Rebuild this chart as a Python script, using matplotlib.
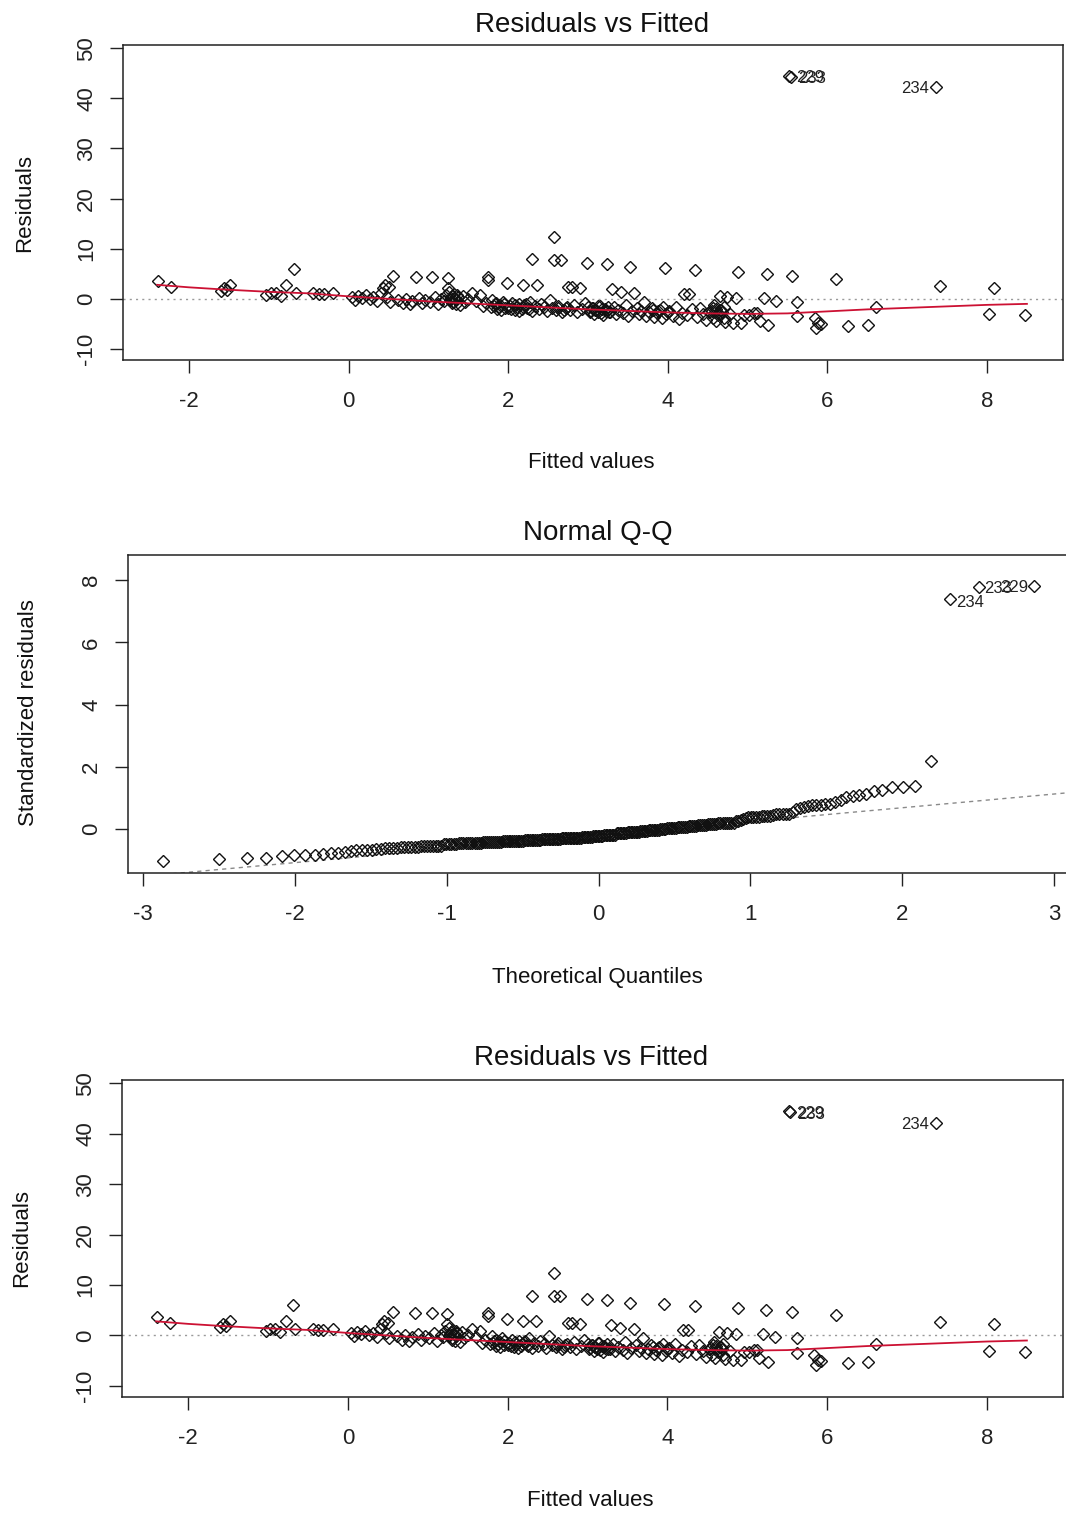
import matplotlib
matplotlib.use("Agg")
import matplotlib.pyplot as plt
import numpy as np
from statistics import NormalDist

# ---------------- data ----------------
fitted = [
    -2.39, -2.22, -1.60, -1.56, -1.53, -1.48, -1.03, -0.97, -0.91, -0.85, -0.78, -0.69, -0.66, -0.44, -0.37, -0.31, -0.19,
    0.04, 0.08, 0.12, 0.17, 0.22, 0.27, 0.31, 0.36, 0.40, 0.43, 0.45, 0.48, 0.50, 0.52, 0.56, 0.62, 0.68, 0.72, 0.77, 0.80, 0.84, 0.88, 0.92, 0.96,
    1.02, 1.05, 1.08, 1.12, 1.16, 1.19, 1.22, 1.24, 1.24, 1.26, 1.28, 1.30, 1.32, 1.35, 1.37, 1.40, 1.43, 1.46, 1.50, 1.55, 1.60, 1.65, 1.68, 1.72, 1.75, 1.75, 1.78, 1.80, 1.83, 1.86, 1.90, 1.93, 1.96, 1.99,
    2.02, 2.05, 2.08, 2.11, 2.14, 2.17, 2.19, 2.20, 2.24, 2.27, 2.30, 2.30, 2.33, 2.36, 2.38, 2.41, 2.45, 2.48, 2.52, 2.55, 2.58, 2.58, 2.60, 2.63, 2.66, 2.68, 2.72, 2.75, 2.78, 2.80, 2.83, 2.86, 2.90, 2.92, 2.96, 2.99,
    3.02, 3.05, 3.08, 3.10, 3.13, 3.16, 3.19, 3.21, 3.24, 3.26, 3.30, 3.32, 3.35, 3.38, 3.41, 3.44, 3.47, 3.50, 3.53, 3.55, 3.58, 3.61, 3.64, 3.67, 3.70, 3.73, 3.76, 3.80, 3.83, 3.86, 3.90, 3.93, 3.96, 3.98,
    4.02, 4.06, 4.10, 4.14, 4.18, 4.20, 4.24, 4.26, 4.30, 4.34, 4.36, 4.40, 4.44, 4.48, 4.52, 4.56, 4.58, 4.60, 4.63, 4.65, 4.67, 4.70, 4.72, 4.74, 4.78, 4.82, 4.86, 4.88, 4.92, 4.96,
    5.02, 5.08, 5.12, 5.15, 5.20, 5.24, 5.26, 5.35, 5.52, 5.54, 5.56, 5.62, 5.62, 5.84, 5.88, 5.92, 5.86, 6.11, 6.26, 6.51, 6.61, 7.36, 7.41, 8.03, 8.09, 8.48,
    1.27, 1.29, 1.31, 1.33, 1.34, 1.36,
    1.82, 1.85, 1.88, 1.91, 1.95, 2.00, 2.04, 2.09, 2.13, 2.18, 2.22, 2.26,
    3.00, 3.03, 3.06, 3.09, 3.12, 3.15, 3.18, 3.22, 3.25, 3.28,
    3.82, 3.88, 3.94, 4.00,
    4.55, 4.57, 4.59, 4.61, 4.64, 4.66, 4.68, 4.70,
    2.62, 2.70, 2.74,
]
residuals = [
    3.6, 2.4, 1.6, 2.2, 1.8, 2.8, 0.8, 1.2, 1.2, 0.6, 2.8, 6.0, 1.2, 1.2, 1.0, 1.0, 1.2,
    0.4, -0.2, 0.6, 0.2, 0.8, 0.0, 0.4, -0.4, 1.2, 2.2, 2.8, 0.4, 2.4, -0.6, 4.6, -0.2, -0.8, 0.0, -1.0, -0.4, 4.4, 0.2, -0.8, -0.2,
    -0.6, 4.4, 0.4, -1.0, 0.0, -0.4, 0.8, 4.2, 2.2, 1.4, 0.2, -0.8, 1.0, -0.2, 0.4, -1.2, 0.6, -0.6, 0.0, 1.2, -0.4, 0.8, -1.4, -0.8, 4.4, 3.8, -1.6, -0.2, -1.0, -2.0, -1.2, -0.6, -1.8, 3.2,
    -1.4, -0.8, -2.2, -1.6, -1.0, -2.0, 2.8, -1.2, -1.8, -0.6, 7.9, -2.4, -1.4, 2.8, -2.0, -1.0, -1.6, -2.4, -0.2, -1.8, 12.4, 7.8, -2.2, -1.4, 7.8, -2.6, -1.8, 2.4, -2.2, 2.4, -1.2, -2.6, 2.2, -2.0, -0.8, 7.2,
    -2.6, -1.8, -3.0, -2.2, -1.4, -2.8, -3.2, -2.0, 7.0, -2.6, 2.0, -1.6, -3.0, -2.2, 1.4, -2.8, -1.2, -3.4, 6.4, -2.4, 1.2, -1.8, -3.0, -2.4, -0.6, -3.4, -2.6, -1.8, -3.6, -2.8, -2.2, -3.8, 6.2, -3.0,
    -2.4, -3.4, -1.6, -4.0, -2.8, 1.0, -3.2, 1.0, -2.0, 5.8, -3.6, -1.8, -3.0, -4.2, -2.6, -3.8, -1.2, -4.4, -3.2, 0.6, -2.2, -3.8, -4.6, 0.4, -3.0, -4.8, 0.2, 5.4, -4.8, -3.2,
    -3.2, -2.8, -2.8, -4.4, 0.2, 5.0, -5.2, -0.4, 44.5, 44.3, 4.6, -0.6, -3.4, -3.8, -4.8, -5.0, -5.8, 4.0, -5.4, -5.2, -1.6, 42.2, 2.6, -3.0, 2.2, -3.2,
    -0.2, 0.6, -0.6, 0.2, -1.0, 0.8,
    -1.4, -0.8, -1.6, -2.2, -1.0, -1.8, -2.0, -1.2, -2.4, -1.6, -1.0, -2.0,
    -1.6, -2.4, -1.8, -2.2, -2.6, -1.4, -2.0, -2.4, -1.6, -2.6,
    -2.2, -2.4, -1.6, -2.6,
    -2.4, -1.8, -2.6, -2.0, -3.0, -2.2, -2.6, -1.6,
    -1.8, -2.2, -1.6,
]
outlier_labels = ["234", "233", "229"]          # ordered by increasing residual

# smoother (red line)
lowess_x = [-2.4, -2.0, -1.6, -1.0, -0.5, 0.0, 0.5, 1.0, 1.5, 2.0, 2.5, 3.0, 3.5, 4.0, 4.5, 5.0, 5.5, 6.0, 6.5, 7.0, 7.5, 8.0, 8.5]
lowess_y = [2.8, 2.3, 1.9, 1.4, 1.1, 0.5, 0.0, -0.5, -0.9, -1.3, -1.7, -2.1, -2.4, -2.7, -2.9, -3.0, -2.9, -2.5, -2.1, -1.8, -1.5, -1.2, -1.0]

sigma_hat = 5.70                       # residual scale (standardisation)
qq_line_x = [-3.3, 3.3]
qq_line_y = [-1.65, 1.26]

x_ticks_fit = [-2, 0, 2, 4, 6, 8]
y_ticks_res = [-10, 0, 10, 20, 30, 40, 50]
x_ticks_qq = [-3, -2, -1, 0, 1, 2, 3]
y_ticks_qq = [0, 2, 4, 6, 8]

# ---------------- figure ----------------
W, H = 1066, 1515
plt.rcParams["font.family"] = ["Liberation Sans", "DejaVu Sans"]
plt.rcParams["axes.unicode_minus"] = False
fig = plt.figure(figsize=(W / 100, H / 100), dpi=100)


def px_box(l, t, r, b):
    return [l / W, 1 - b / H, (r - l) / W, (b - t) / H]


def ftext(x, y, s, **kw):
    fig.text(x / W, 1 - y / H, s, ha="center", va="center", **kw)


TICK_FS = 16
LAB_FS = 16
TITLE_FS = 20
MS = 6.5


def style(ax):
    for sp in ax.spines.values():
        sp.set_linewidth(1.1)
        sp.set_color("#222222")
    ax.tick_params(axis="both", direction="out", length=9.5, width=1.0,
                   labelsize=TICK_FS, colors="#222222")
    ax.tick_params(axis="x", pad=13)
    ax.tick_params(axis="y", pad=9)
    for lbl in ax.get_yticklabels():
        lbl.set_rotation(90)
        lbl.set_va("center")


fit = np.array(fitted)
res = np.array(residuals)
order_out = np.argsort(res)[-3:]       # three largest residuals


def resid_panel(box, title_y, xlab_y, ylab_x, ylab_y, title_x, xlab_x):
    ax = fig.add_axes(px_box(*box))
    ax.axhline(0, color="#9a9a9a", lw=1.0, ls=(0, (1.5, 3)))
    ax.plot(fit, res, ls="none", marker="D", ms=MS, mfc="none", mec="#111111", mew=1.0)
    ax.plot(lowess_x, lowess_y, color="#cc1133", lw=1.3)
    ax.set_xlim(-2.827, 8.952)
    ax.set_ylim(-12.2, 50.65)
    ax.set_xticks(x_ticks_fit)
    ax.set_yticks(y_ticks_res)
    style(ax)
    for k, idx in enumerate(order_out):
        lab = outlier_labels[k]
        if fit[idx] > 7:
            ax.annotate(lab, (fit[idx], res[idx]), xytext=(-5, -1), textcoords="offset points",
                        ha="right", va="center", fontsize=12, color="#222222")
        else:
            ax.annotate(lab, (fit[idx], res[idx]), xytext=(5, -1.5), textcoords="offset points",
                        ha="left", va="center", fontsize=12, color="#222222")
    ftext(title_x, title_y, "Residuals vs Fitted", fontsize=TITLE_FS, color="#111111")
    ftext(xlab_x, xlab_y, "Fitted values", fontsize=LAB_FS, color="#111111")
    ftext(ylab_x, ylab_y, "Residuals", fontsize=LAB_FS, rotation=90, color="#111111")
    return ax


resid_panel((123, 45, 1063, 360), 25, 462, 25, 203, 592, 591)
resid_panel((122, 1080, 1063, 1397), 1058, 1500, 22, 1238, 591, 590)

# ---- Normal Q-Q ----
n = len(res)
std_sorted_idx = np.argsort(res)
std_sorted = res[std_sorted_idx] / sigma_hat
nd = NormalDist()
theo = np.array([nd.inv_cdf((i - 0.5) / n) for i in range(1, n + 1)])

ax2 = fig.add_axes(px_box(128, 555, 1068, 873))
ax2.plot(qq_line_x, qq_line_y, color="#8a8a8a", lw=1.0, ls=(0, (3, 3)))
ax2.plot(theo, std_sorted, ls="none", marker="D", ms=MS, mfc="none", mec="#111111", mew=1.0)
ax2.set_xlim(-3.10, 3.093)
ax2.set_ylim(-1.41, 8.81)
ax2.set_xticks(x_ticks_qq)
ax2.set_yticks(y_ticks_qq)
style(ax2)
ax2.annotate(outlier_labels[0], (theo[-3], std_sorted[-3]), xytext=(4, -2.5), textcoords="offset points",
             ha="left", va="center", fontsize=12, color="#222222")
ax2.annotate(outlier_labels[1], (theo[-2], std_sorted[-2]), xytext=(4, -1), textcoords="offset points",
             ha="left", va="center", fontsize=12, color="#222222")
ax2.annotate(outlier_labels[2], (theo[-1], std_sorted[-1]), xytext=(-4, -1), textcoords="offset points",
             ha="right", va="center", fontsize=12, color="#222222")
ftext(598, 533, "Normal Q-Q", fontsize=TITLE_FS, color="#111111")
ftext(597, 977, "Theoretical Quantiles", fontsize=LAB_FS, color="#111111")
ftext(28, 713, "Standardized residuals", fontsize=LAB_FS, rotation=90, color="#111111")

fig.savefig("out.png", dpi=100)
